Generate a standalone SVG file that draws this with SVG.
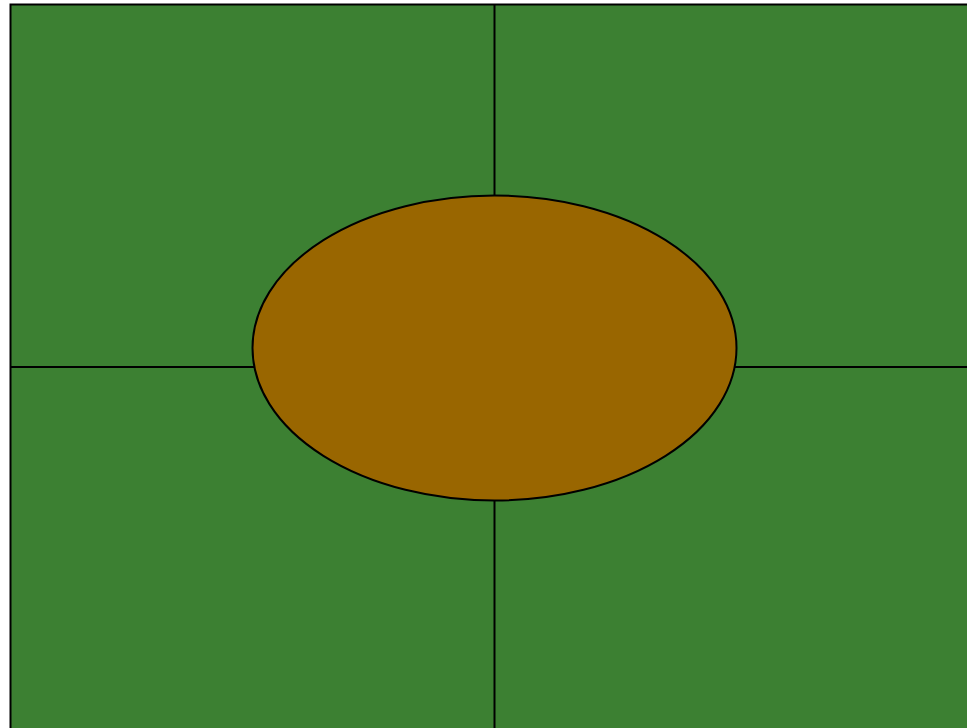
<svg xmlns="http://www.w3.org/2000/svg" width="967" height="728" viewBox="0 0 967 728">
<style>
.ln{stroke:#000;stroke-width:2;fill:none}
</style>
<rect width="967" height="728" fill="#fff"/>
<g id="field">
<rect x="10.5" y="4.5" width="980" height="760" fill="#3c8032" stroke="#000" stroke-width="2"/>
</g>
<g id="connectors">
<line class="ln" x1="494.5" y1="4" x2="494.5" y2="728"/>
<line class="ln" x1="10" y1="367" x2="967" y2="367"/>
</g>
<g id="center">
<ellipse cx="494.5" cy="348" rx="242" ry="152.5" fill="#996600" stroke="#000" stroke-width="2"/>
</g>
</svg>
